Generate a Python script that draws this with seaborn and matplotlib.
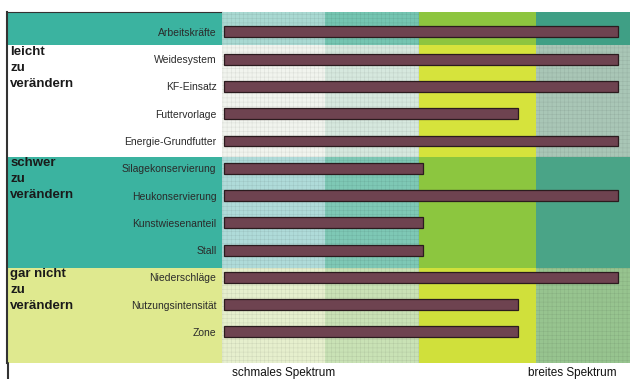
import seaborn as sns
import pandas as pd
import matplotlib.pyplot as plt
from matplotlib.patches import Rectangle
from matplotlib.lines import Line2D
from matplotlib.colors import to_rgb

# data
factors = ['Arbeitskräfte', 'Weidesystem', 'KF-Einsatz', 'Futtervorlage',
           'Energie-Grundfutter', 'Silagekonservierung', 'Heukonservierung',
           'Kunstwiesenanteil', 'Stall', 'Niederschläge', 'Nutzungsintensität', 'Zone']
spectrum = [97, 97, 97, 72.5, 97, 49, 97, 49, 49, 97, 72.5, 72.5]

group_labels = ['leicht\nzu\nverändern', 'schwer\nzu\nverändern', 'gar nicht\nzu\nverändern']
col_edges = [-0.6, 24.8, 48, 76.7, 100]
band_edges = [-0.73, 0.48, 4.58, 8.65, 12.14]
axis_labels = ['schmales Spektrum', 'breites Spektrum']

df = pd.DataFrame({'Faktor': factors, 'Spektrum': spectrum})

band_colors = [
    ['#a9d9d2', '#74c5b1', '#8dc53f', '#3f9f85'],
    ['#f1f4ee', '#d6e8de', '#d6e33c', '#a9c6b6'],
    ['#afdbd9', '#7ec8b5', '#8cc63f', '#4aa487'],
    ['#e6efcd', '#c9e2b5', '#d0e03b', '#97c48f'],
]
# which cells carry the printed raster texture
textured = [
    [True, True, False, False],
    [True, True, False, True],
    [True, True, False, False],
    [True, True, False, True],
]
left_colors = ['#3bb3a0', '#ffffff', '#3bb3a0', '#dfe98f']

sns.set_style('white')
plt.rcParams['font.family'] = ['Liberation Sans', 'DejaVu Sans']
plt.rcParams['hatch.linewidth'] = 0.35

fig = plt.figure(figsize=(6.3, 3.79), dpi=100)
ax_left = fig.add_axes([7 / 630, 16 / 379, 215 / 630, 351 / 379])
ax = fig.add_axes([222 / 630, 16 / 379, 408 / 630, 351 / 379])

# left label panel
ax_left.set_xlim(0, 1)
ax_left.set_ylim(band_edges[-1], band_edges[0])
for i, c in enumerate(left_colors):
    ax_left.add_patch(Rectangle((0, band_edges[i]), 1, band_edges[i + 1] - band_edges[i],
                                facecolor=c, edgecolor='none', zorder=0))
for i, lab in enumerate(group_labels):
    ax_left.text(0.015, band_edges[i + 1] + 0.02, lab, ha='left', va='top',
                 fontsize=9.5, fontweight='bold', color='#1a1a1a', linespacing=1.45)
ax_left.set_xticks([])
ax_left.set_yticks([])
for s in ['right', 'bottom']:
    ax_left.spines[s].set_visible(False)
ax_left.spines['left'].set_color('#333333')
ax_left.spines['top'].set_color('#333333')
ax_left.spines['left'].set_linewidth(1.5)
fig.add_artist(Line2D([7.5 / 630, 7.5 / 630], [0, 16 / 379], color='#333333', lw=1.5))

# background bands
for i in range(4):
    for j in range(4):
        fc = band_colors[i][j]
        x0, y0 = col_edges[j], band_edges[i]
        w, h = col_edges[j + 1] - col_edges[j], band_edges[i + 1] - band_edges[i]
        ax.add_patch(Rectangle((x0, y0), w, h, facecolor=fc, edgecolor='none', zorder=0))
        if textured[i][j]:
            dark = tuple(v * 0.9 for v in to_rgb(fc))
            ax.add_patch(Rectangle((x0, y0), w, h, facecolor='none', edgecolor=dark,
                                   hatch='++++', linewidth=0, zorder=1))

sns.barplot(data=df, x='Spektrum', y='Faktor', order=factors, ax=ax,
            color='#6e4350', edgecolor='#2b1b1e', linewidth=0.9, width=0.4,
            saturation=1, zorder=3)

ax.set_xlim(col_edges[0], col_edges[-1])
ax.set_ylim(band_edges[-1], band_edges[0])
ax.set_xlabel('')
ax.set_ylabel('')
ax.set_xticks([14.7, 85.8])
ax.set_xticklabels(axis_labels, fontsize=8.5, color='#111111')
ax.tick_params(axis='x', length=0, pad=3)
ax.tick_params(axis='y', length=0, pad=4, labelsize=7.5, labelcolor='#2a2a2a')
for s in ax.spines.values():
    s.set_visible(False)

fig.savefig('out.png', dpi=100)
